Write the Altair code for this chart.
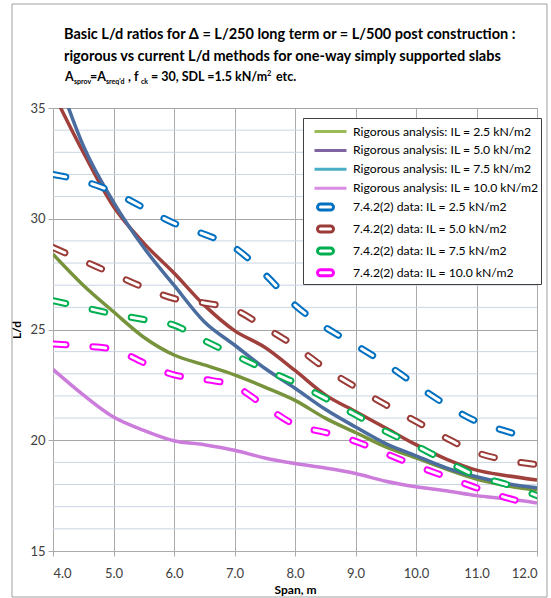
import altair as alt
import pandas as pd

span = [4.0, 4.5, 5.0, 5.5, 6.0, 6.5, 7.0, 7.5, 8.0, 8.5, 9.0, 9.5, 10.0, 10.5, 11.0, 11.5, 12.0]

# Rigorous analysis (solid lines)
rig_25 = [28.4, 27.0, 25.8, 24.65, 23.85, 23.4, 22.95, 22.4, 21.8, 21.0, 20.35, 19.7, 19.2, 18.7, 18.25, 17.95, 17.75]
rig_50 = [35.7, 33.0, 30.55, 28.9, 27.55, 26.1, 24.95, 24.2, 23.15, 22.05, 21.3, 20.55, 19.8, 19.15, 18.65, 18.4, 18.2]
rig_75 = [37.0, 33.3, 30.75, 28.7, 27.0, 25.35, 24.3, 23.25, 22.35, 21.4, 20.6, 19.85, 19.3, 18.75, 18.35, 18.05, 17.85]
rig_100 = [23.2, 22.05, 21.05, 20.45, 19.98, 19.8, 19.55, 19.2, 18.95, 18.75, 18.5, 18.15, 17.9, 17.72, 17.5, 17.35, 17.17]

# 7.4.2(2) data (dashed lines)
dat_25 = [32.0, 31.7, 31.2, 30.5, 29.8, 29.3, 28.7, 27.5, 26.1, 25.1, 24.3, 23.45, 22.5, 21.6, 20.85, 20.4, 20.0]
dat_50 = [28.7, 28.1, 27.5, 26.9, 26.4, 26.2, 25.9, 25.1, 24.25, 23.25, 22.4, 21.6, 20.85, 20.1, 19.45, 19.1, 18.9]
dat_75 = [26.3, 26.0, 25.7, 25.45, 25.2, 24.5, 23.85, 23.2, 22.6, 21.9, 21.15, 20.4, 19.75, 19.05, 18.4, 18.0, 17.5]
dat_100 = [24.35, 24.25, 24.1, 23.5, 22.95, 22.75, 22.45, 21.55, 20.7, 20.35, 19.95, 19.4, 18.85, 18.35, 17.85, 17.4, 17.05]

rig_names = ["Rigorous analysis: IL = 2.5 kN/m2", "Rigorous analysis: IL = 5.0 kN/m2",
             "Rigorous analysis: IL = 7.5 kN/m2", "Rigorous analysis: IL = 10.0 kN/m2"]
dat_names = ["7.4.2(2) data: IL = 2.5 kN/m2", "7.4.2(2) data: IL = 5.0 kN/m2",
             "7.4.2(2) data: IL = 7.5 kN/m2", "7.4.2(2) data: IL = 10.0 kN/m2"]

rig_plot_colors = ["#77933C", "#A0403C", "#4A6C9E", "#CC7DDB"]
dat_colors = ["#0070C0", "#9B3B37", "#00B050", "#FF00FF"]
rig_legend_colors = ["#9BBB59", "#8064A2", "#4BACC6", "#D98EE3"]

x_ticks = [4, 5, 6, 7, 8, 9, 10, 11, 12]
y_ticks = [15, 20, 25, 30, 35]
y_minor = [16, 17, 18, 19, 21, 22, 23, 24, 26, 27, 28, 29, 31, 32, 33, 34]

title_lines = ["Basic L/d ratios for \u0394 = L/250  long term or = L/500 post construction :",
               "rigorous vs current L/d methods for one-way simply supported slabs"]

FONT = "Lato"

rows = []
for name, vals, col in zip(rig_names, [rig_25, rig_50, rig_75, rig_100], rig_plot_colors):
    for s, v in zip(span, vals):
        rows.append({"series": name, "kind": "rig", "span": s, "ld": v, "pcolor": col})
for name, vals, col in zip(dat_names, [dat_25, dat_50, dat_75, dat_100], dat_colors):
    for s, v in zip(span, vals):
        rows.append({"series": name, "kind": "dat", "span": s, "ld": v, "pcolor": col})
df = pd.DataFrame(rows)

xscale = alt.Scale(domain=[4, 12], nice=False)
yscale = alt.Scale(domain=[15, 35], nice=False)

xaxis = alt.Axis(values=x_ticks, format=".1f", title="Span, m", grid=True,
                 gridColor="#ABABAB", domainColor="#ABABAB", tickColor="#ABABAB",
                 tickSize=5, labelFontSize=13, labelColor="#404040", labelPadding=11,
                 labelFont=FONT, titleFont=FONT, titleFontSize=12,
                 titleFontWeight="bold", titleColor="#000000", titlePadding=4)
yaxis = alt.Axis(values=y_ticks, title="L/d", grid=True, gridColor="#A6A6A6",
                 domainColor="#ABABAB", tickColor="#ABABAB", tickSize=5,
                 labelFontSize=13, labelColor="#404040", labelPadding=3,
                 labelFont=FONT, titleFont=FONT, titleFontSize=12,
                 titleFontWeight="bold", titleColor="#000000", titlePadding=6)

minor = alt.Chart(pd.DataFrame({"v": y_minor})).mark_rule(
    color="#C9D6E4", strokeWidth=1).encode(
    y=alt.Y("v:Q", scale=yscale, axis=yaxis, title="L/d"))

base = alt.Chart(df)

solid = base.transform_filter("datum.kind == 'rig'").mark_line(
    strokeWidth=3.5, clip=True, interpolate="monotone").encode(
    x=alt.X("span:Q", scale=xscale, axis=xaxis, title="Span, m"),
    y=alt.Y("ld:Q", scale=yscale, axis=yaxis, title="L/d"),
    stroke=alt.Stroke("pcolor:N", scale=None), detail="series:N")

dash_outer = base.transform_filter("datum.kind == 'dat'").mark_line(
    strokeWidth=7, strokeDash=[13, 27], strokeCap="round", clip=True, interpolate="monotone").encode(
    x=alt.X("span:Q", scale=xscale, axis=xaxis, title="Span, m"),
    y=alt.Y("ld:Q", scale=yscale, axis=yaxis, title="L/d"),
    stroke=alt.Stroke("pcolor:N", scale=None), detail="series:N")

dash_inner = base.transform_filter("datum.kind == 'dat'").mark_line(
    strokeWidth=3, strokeDash=[13, 27], strokeCap="round", clip=True, interpolate="monotone",
    color="white").encode(
    x=alt.X("span:Q", scale=xscale, axis=xaxis, title="Span, m"),
    y=alt.Y("ld:Q", scale=yscale, axis=yaxis, title="L/d"),
    detail="series:N")

all_names = rig_names + dat_names
line_path = "M-0.2,0L3,0"
cap_path = "M0.4,-0.3L1.4,-0.3A0.3,0.3 0 0 1 1.4,0.3L0.4,0.3A0.3,0.3 0 0 1 0.4,-0.3Z"
shapes = [line_path] * 4 + [cap_path] * 4

leg = alt.Legend(title=None, orient="none", legendX=250, legendY=10,
                 fillColor="white", strokeColor="#404040", padding=2,
                 labelFont=FONT, labelFontSize=12.2, labelColor="#000000",
                 symbolSize=400, symbolStrokeWidth=3, symbolOpacity=1,
                 rowPadding=0.9, labelOffset=25, labelLimit=400)

legend_layer = base.transform_filter("datum.span == 4").mark_point(
    opacity=0, filled=False).encode(
    x=alt.X("span:Q", scale=xscale, axis=xaxis, title="Span, m"),
    y=alt.Y("ld:Q", scale=yscale, axis=yaxis, title="L/d"),
    color=alt.Color("series:N", scale=alt.Scale(domain=all_names, range=rig_legend_colors + dat_colors),
                    legend=leg, sort=all_names),
    shape=alt.Shape("series:N", scale=alt.Scale(domain=all_names, range=shapes),
                    legend=leg, sort=all_names))

tdf = pd.DataFrame({"t": title_lines, "yy": [-73, -51]})
title_layer = alt.Chart(tdf).mark_text(
    align="left", baseline="middle", font=FONT, fontSize=14.5, fontWeight="bold", color="#000000").encode(
    text="t:N", x=alt.value(11), y=alt.Y("yy:Q", scale=None))

sub_df = pd.DataFrame({
    "t": ["A", "=A", ", f", "= 30, SDL =1.5 kN/m", "etc."],
    "px": [12, 37, 75, 98, 223],
})
sub_small = pd.DataFrame({
    "t": ["sprov", "sreq'd", "ck"],
    "px": [21, 53, 88],
})
sup_df = pd.DataFrame({"t": ["2"], "px": [214]})

sub_main = alt.Chart(sub_df).mark_text(
    align="left", baseline="alphabetic", font=FONT, fontSize=12.5, fontWeight="bold", color="#000000").encode(
    text="t:N", x=alt.X("px:Q", scale=None), y=alt.value(-27))
sub_sub = alt.Chart(sub_small).mark_text(
    align="left", baseline="alphabetic", font=FONT, fontSize=7, fontWeight="bold", color="#000000").encode(
    text="t:N", x=alt.X("px:Q", scale=None), y=alt.value(-24))
sub_sup = alt.Chart(sup_df).mark_text(
    align="left", baseline="alphabetic", font=FONT, fontSize=7.5, fontWeight="bold", color="#000000").encode(
    text="t:N", x=alt.X("px:Q", scale=None), y=alt.value(-32))

frame = alt.Chart(pd.DataFrame({"a": [0]})).mark_rect(
    fill=None, stroke="#A0A0A0", strokeWidth=1).encode(
    x=alt.value(-41), x2=alt.value(494), y=alt.value(-104), y2=alt.value(489))

chart = alt.layer(frame, minor, solid, dash_outer, dash_inner, legend_layer,
                  title_layer, sub_main, sub_sub, sub_sup).properties(
    width=484, height=443,
    autosize=alt.AutoSizeParams(type="none"),
    padding={"left": 53, "top": 108, "right": 14, "bottom": 47},
    background="white",
).configure_view(stroke="#ABABAB")

chart.save("out.html", embed_options={"renderer": "svg", "actions": False})
